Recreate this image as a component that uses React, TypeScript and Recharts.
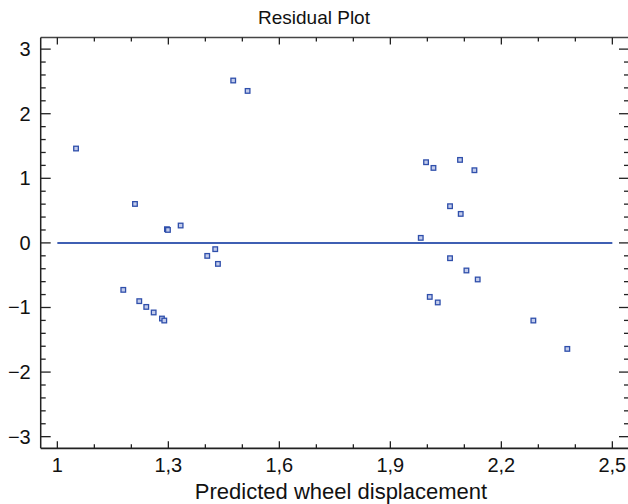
import React from "react";
import { ScatterChart, Scatter, XAxis, YAxis, ReferenceLine } from "recharts";

const predicted = [
  1.0505, 1.4753, 1.5142, 1.2098, 1.2962, 1.2989, 1.3332, 1.4267, 1.4051, 1.434,
  1.1782, 1.2214, 1.2403, 1.2603, 1.2827, 1.289, 1.9965, 2.0883, 2.0165, 2.1272,
  2.0613, 2.0902, 1.9822, 2.0613, 2.1056, 2.1361, 2.0065, 2.0281, 2.2865, 2.3783,
];
const residual = [
  1.461, 2.514, 2.353, 0.603, 0.212, 0.201, 0.269, -0.097, -0.201, -0.325,
  -0.727, -0.902, -0.991, -1.077, -1.171, -1.202, 1.249, 1.285, 1.161, 1.125,
  0.568, 0.449, 0.078, -0.237, -0.427, -0.566, -0.836, -0.922, -1.202, -1.641,
];
const xTicks = [1, 1.1, 1.2, 1.3, 1.4, 1.5, 1.6, 1.7, 1.8, 1.9, 2, 2.1, 2.2, 2.3, 2.4, 2.5];
const xMajor = [1, 1.3, 1.6, 1.9, 2.2, 2.5];
const yTicks = [
  -3, -2.8, -2.6, -2.4, -2.2, -2, -1.8, -1.6, -1.4, -1.2, -1, -0.8, -0.6, -0.4, -0.2, 0,
  0.2, 0.4, 0.6, 0.8, 1, 1.2, 1.4, 1.6, 1.8, 2, 2.2, 2.4, 2.6, 2.8, 3,
];
const xDomain: [number, number] = [0.955, 2.545];
const yDomain: [number, number] = [-3.18, 3.18];
const title = "Residual Plot";
const xLabel = "Predicted wheel displacement";

const data = predicted.map((x, i) => ({ x, y: residual[i] }));

const FONT = "'Liberation Sans', Arial, sans-serif";
const AXIS = "#222";

const isMajorX = (v: number) => xMajor.some((m) => Math.abs(m - v) < 1e-6);
const isMajorY = (v: number) => Math.abs(v - Math.round(v)) < 1e-6;
const fmtX = (v: number) => String(v).replace(".", ",");
const fmtY = (v: number) => (v < 0 ? "\u2212" + Math.abs(v) : String(v));

const BottomTick = (props: any) => {
  const { x, y, payload } = props;
  const major = isMajorX(payload.value);
  return (
    <g>
      <line x1={x} x2={x} y1={y} y2={y - (major ? 7 : 4)} stroke={AXIS} strokeWidth={1.3} />
      {major && (
        <text x={x} y={y + 24} textAnchor="middle" fontSize={20} fill="#111" fontFamily={FONT}>
          {fmtX(payload.value)}
        </text>
      )}
    </g>
  );
};

const TopTick = (props: any) => {
  const { x, y, payload } = props;
  const major = isMajorX(payload.value);
  return <line x1={x} x2={x} y1={y} y2={y + (major ? 7 : 4)} stroke={AXIS} strokeWidth={1.3} />;
};

const LeftTick = (props: any) => {
  const { x, y, payload } = props;
  const major = isMajorY(payload.value);
  return (
    <g>
      <line x1={x} x2={x + (major ? 10 : 5)} y1={y} y2={y} stroke={AXIS} strokeWidth={1.3} />
      {major && (
        <text x={x - 10} y={y + 7} textAnchor="end" fontSize={20} fill="#111" fontFamily={FONT}>
          {fmtY(payload.value)}
        </text>
      )}
    </g>
  );
};

const RightTick = (props: any) => {
  const { x, y, payload } = props;
  const major = isMajorY(payload.value);
  return <line x1={x} x2={x - (major ? 10 : 5)} y1={y} y2={y} stroke={AXIS} strokeWidth={1.3} />;
};

const Marker = (props: any) => {
  const { cx, cy } = props;
  if (cx == null || cy == null) return null;
  return (
    <rect x={cx - 2.3} y={cy - 2.3} width={4.6} height={4.6} fill="#c3cceb" stroke="#2f4fab" strokeWidth={1.3} />
  );
};

const XTitle = () => (
  <text x={341} y={499} textAnchor="middle" fontSize={22} fill="#111" fontFamily={FONT}>
    {xLabel}
  </text>
);

const ChartTitle = () => (
  <text x={314} y={24} textAnchor="middle" fontSize={19} fill="#111" fontFamily={FONT}>
    {title}
  </text>
);

export default function App() {
  return (
    <div style={{ position: "absolute", left: 0, top: 0, width: 628, height: 504, overflow: "hidden", background: "#fff" }}>
      <ScatterChart
        width={632}
        height={504}
        margin={{ top: 36.5, left: 39.7, right: 2, bottom: 54.7 }}
      >
        <XAxis
          xAxisId="b"
          dataKey="x"
          type="number"
          orientation="bottom"
          domain={xDomain}
          ticks={xTicks}
          interval={0}
          allowDataOverflow
          height={1}
          tickSize={0}
          tickMargin={0}
          tickLine={false}
          tick={BottomTick}
          axisLine={{ stroke: AXIS, strokeWidth: 1.8 }}
          label={<XTitle />}
        />
        <XAxis
          xAxisId="t"
          dataKey="x"
          type="number"
          orientation="top"
          domain={xDomain}
          ticks={xTicks}
          interval={0}
          allowDataOverflow
          height={1}
          tickSize={0}
          tickMargin={0}
          tickLine={false}
          tick={TopTick}
          axisLine={{ stroke: "#444", strokeWidth: 1.5 }}
          label={<ChartTitle />}
        />
        <YAxis
          yAxisId="l"
          dataKey="y"
          type="number"
          orientation="left"
          domain={yDomain}
          ticks={yTicks}
          interval={0}
          allowDataOverflow
          width={1}
          tickSize={0}
          tickMargin={0}
          tickLine={false}
          tick={LeftTick}
          axisLine={{ stroke: AXIS, strokeWidth: 1.5 }}
        />
        <YAxis
          yAxisId="r"
          dataKey="y"
          type="number"
          orientation="right"
          domain={yDomain}
          ticks={yTicks}
          interval={0}
          allowDataOverflow
          width={1}
          tickSize={0}
          tickMargin={0}
          tickLine={false}
          tick={RightTick}
          axisLine={{ stroke: AXIS, strokeWidth: 1.5 }}
        />
        <ReferenceLine
          xAxisId="b"
          yAxisId="l"
          segment={[
            { x: 1, y: 0 },
            { x: 2.5, y: 0 },
          ]}
          stroke="#3f5fb3"
          strokeWidth={2}
        />
        <Scatter
          xAxisId="b"
          yAxisId="l"
          data={data}
          shape={<Marker />}
          isAnimationActive={false}
        />
      </ScatterChart>
    </div>
  );
}
